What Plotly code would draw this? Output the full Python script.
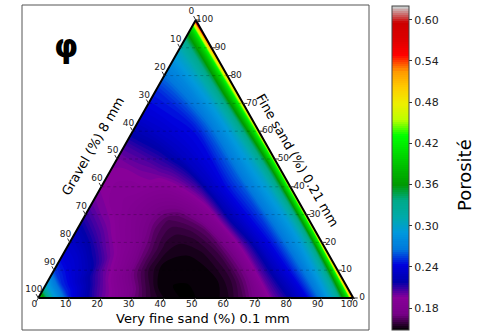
import math
import plotly.graph_objects as go

# ---------------------------------------------------------------------------
# Porosity of gravel / fine sand / very fine sand mixtures
# Grid rows: gravel content (%); grid columns: share of very fine sand
# within the sand fraction, V / (V + F).
# ---------------------------------------------------------------------------
gravel = [0, 1, 2, 3, 5, 7, 10, 15, 20, 25, 30, 35, 40, 45, 50,
          55, 60, 65, 70, 75, 80, 85, 90, 95, 98, 100]
vfs_share = [0.0, 0.25, 0.5, 0.62, 0.75, 0.9, 1.0]

# porosity along each line of constant very-fine-sand share, one value per gravel row
phi_s000 = [0.600, 0.490, 0.430, 0.400, 0.360, 0.335, 0.310, 0.282, 0.265, 0.250, 0.243, 0.235, 0.222,
            0.208, 0.198, 0.195, 0.195, 0.200, 0.210, 0.222, 0.232, 0.240, 0.254, 0.300, 0.360, 0.410]
phi_s025 = [0.500, 0.450, 0.410, 0.385, 0.345, 0.320, 0.292, 0.265, 0.245, 0.238, 0.228, 0.212, 0.200,
            0.194, 0.190, 0.189, 0.191, 0.198, 0.208, 0.220, 0.232, 0.240, 0.252, 0.295, 0.355, 0.410]
phi_s050 = [0.470, 0.420, 0.385, 0.355, 0.325, 0.302, 0.285, 0.260, 0.245, 0.228, 0.198, 0.180, 0.167,
            0.162, 0.165, 0.173, 0.183, 0.190, 0.200, 0.213, 0.226, 0.236, 0.250, 0.295, 0.355, 0.410]
phi_s062 = [0.470, 0.420, 0.380, 0.350, 0.318, 0.297, 0.280, 0.255, 0.240, 0.220, 0.185, 0.166, 0.158,
            0.155, 0.156, 0.162, 0.170, 0.182, 0.192, 0.203, 0.218, 0.233, 0.250, 0.295, 0.355, 0.410]
phi_s075 = [0.480, 0.420, 0.380, 0.345, 0.310, 0.290, 0.275, 0.250, 0.232, 0.205, 0.174, 0.160, 0.153,
            0.150, 0.149, 0.150, 0.157, 0.168, 0.182, 0.197, 0.213, 0.232, 0.250, 0.295, 0.355, 0.410]
phi_s090 = [0.520, 0.440, 0.390, 0.355, 0.315, 0.295, 0.272, 0.245, 0.225, 0.203, 0.172, 0.158, 0.151,
            0.149, 0.148, 0.148, 0.151, 0.162, 0.177, 0.192, 0.206, 0.225, 0.248, 0.295, 0.360, 0.410]
phi_s100 = [0.560, 0.450, 0.400, 0.370, 0.320, 0.300, 0.272, 0.240, 0.220, 0.203, 0.178, 0.163, 0.153,
            0.149, 0.148, 0.148, 0.151, 0.158, 0.170, 0.188, 0.202, 0.222, 0.248, 0.300, 0.365, 0.410]

ticks = [0, 10, 20, 30, 40, 50, 60, 70, 80, 90, 100]
cbar_ticks = [0.18, 0.24, 0.30, 0.36, 0.42, 0.48, 0.54, 0.60]
phi_min, phi_max = 0.148, 0.62

# matplotlib's nipy_spectral colour map
nipy = [
    (0.00, (0.0, 0.0, 0.0)), (0.05, (0.4667, 0.0, 0.5333)), (0.10, (0.5333, 0.0, 0.6)),
    (0.15, (0.0, 0.0, 0.6667)), (0.20, (0.0, 0.0, 0.8667)), (0.25, (0.0, 0.4667, 0.8667)),
    (0.30, (0.0, 0.6, 0.8667)), (0.35, (0.0, 0.6667, 0.6667)), (0.40, (0.0, 0.6667, 0.5333)),
    (0.45, (0.0, 0.6, 0.0)), (0.50, (0.0, 0.7333, 0.0)), (0.55, (0.0, 0.8667, 0.0)),
    (0.60, (0.0, 1.0, 0.0)), (0.65, (0.7333, 1.0, 0.0)), (0.70, (0.9333, 0.9333, 0.0)),
    (0.75, (1.0, 0.8, 0.0)), (0.80, (1.0, 0.6, 0.0)), (0.85, (1.0, 0.0, 0.0)),
    (0.90, (0.8667, 0.0, 0.0)), (0.95, (0.8, 0.0, 0.0)), (1.00, (0.8, 0.8, 0.8)),
]
colorscale = [[p, "rgb(%d,%d,%d)" % tuple(round(255 * c) for c in rgb)] for p, rgb in nipy]

H = math.sqrt(3) / 2


def tern_xy(v, f):
    """Cartesian position of a composition given very fine sand v and fine sand f (%)."""
    return v + f / 2.0, f * H


# carpet grid in cartesian space
X, Y = [], []
for g in gravel:
    rx, ry = [], []
    for s in vfs_share:
        x, y = tern_xy((100 - g) * s, (100 - g) * (1 - s))
        rx.append(x)
        ry.append(y)
    X.append(rx)
    Y.append(ry)

columns = [phi_s000, phi_s025, phi_s050, phi_s062, phi_s075, phi_s090, phi_s100]
Z = [[col[j] for col in columns] for j in range(len(gravel))]

hidden_axis = dict(showgrid=False, showline=False, showticklabels="none",
                   startline=False, endline=False, minorgridcount=0)

fig = go.Figure()
fig.add_trace(go.Carpet(carpet="tern", a=vfs_share, b=gravel, x=X, y=Y,
                        aaxis=hidden_axis, baxis=hidden_axis))
fig.add_trace(go.Contourcarpet(
    carpet="tern", a=vfs_share, b=gravel, z=Z,
    autocontour=False,
    contours=dict(start=phi_min, end=phi_max, size=0.003, coloring="fill", showlines=False),
    line=dict(width=0),
    colorscale=colorscale, zmin=phi_min, zmax=phi_max,
    colorbar=dict(
        x=392 / 490, xanchor="left", xpad=0, ypad=0,
        y=0.5 - 0.5 * (6 + 330 - 333) / 333, yanchor="middle",
        len=(330 - 6) / 333, lenmode="fraction", thickness=17,
        outlinewidth=1, outlinecolor="#444",
        tickvals=cbar_ticks, ticktext=["%.2f" % t for t in cbar_ticks],
        ticks="outside", ticklen=3, tickcolor="#333",
        tickfont=dict(family="DejaVu Sans", size=11, color="#222"),
    ),
    showscale=True,
))

# faint dotted gridlines of constant fine sand content
gx, gy = [], []
for f in ticks[1:-1]:
    x0, y0 = tern_xy(0, f)
    x1, y1 = tern_xy(100 - f, f)
    gx += [x0, x1, None]
    gy += [y0, y1, None]
fig.add_trace(go.Scatter(x=gx, y=gy, mode="lines", hoverinfo="skip",
                         line=dict(color="rgba(0,0,0,0.22)", width=1, dash="dot")))

# triangle outline
corners = [(0, 0), (100, 0), (0, 100), (0, 0)]
ox, oy = zip(*[tern_xy(v, f) for v, f in corners])
fig.add_trace(go.Scatter(x=ox, y=oy, mode="lines", hoverinfo="skip",
                         line=dict(color="black", width=2)))

# tick marks and tick labels on the three edges
tick_len, label_off = 1.4, 2.8
tx, ty, lx, ly, lt = [], [], [], [], []
for t in ticks:
    # bottom: very fine sand
    a = tern_xy(t, 0); b = tern_xy(t, -tick_len); c = tern_xy(t, -label_off * 0.9)
    tx += [a[0], b[0], None]; ty += [a[1], b[1], None]
    lx.append(c[0]); ly.append(c[1]); lt.append(str(t))
    # left: gravel
    a = tern_xy(0, 100 - t); b = tern_xy(-tick_len, 100 - t + tick_len)
    c = tern_xy(-label_off, 100 - t + label_off)
    tx += [a[0], b[0], None]; ty += [a[1], b[1], None]
    lx.append(c[0]); ly.append(c[1]); lt.append(str(t))
    # right: fine sand
    a = tern_xy(100 - t, t); b = tern_xy(100 - t + tick_len, t); c = tern_xy(100 - t + label_off, t)
    tx += [a[0], b[0], None]; ty += [a[1], b[1], None]
    lx.append(c[0]); ly.append(c[1]); lt.append(str(t))

fig.add_trace(go.Scatter(x=tx, y=ty, mode="lines", hoverinfo="skip",
                         line=dict(color="#333", width=1)))
fig.add_trace(go.Scatter(x=lx, y=ly, mode="text", text=lt, textposition="middle center",
                         cliponaxis=False, hoverinfo="skip",
                         textfont=dict(family="DejaVu Sans", size=9, color="#222")))

font = "DejaVu Sans"
annotations = [
    dict(text="φ", x=66 / 490, y=1 - 46 / 333, font=dict(family=font, size=31, color="black", weight="bold")),
    dict(text="Very fine sand (%) 0.1 mm", x=203 / 490, y=1 - 318.5 / 333,
         font=dict(family=font, size=13, color="black")),
    dict(text="Gravel (%) 8 mm", x=92.5 / 490, y=1 - 146 / 333, textangle=-60,
         font=dict(family=font, size=13, color="black")),
    dict(text="Fine sand (%) 0.21 mm", x=297.5 / 490, y=1 - 160.5 / 333, textangle=60,
         font=dict(family=font, size=13, color="black")),
    dict(text="Porosité", x=464 / 490, y=1 - 175 / 333, textangle=-90,
         font=dict(family=font, size=18, color="black")),
]
for an in annotations:
    an.update(xref="paper", yref="paper", showarrow=False, xanchor="center", yanchor="middle")

fig.update_layout(
    width=490, height=333,
    margin=dict(l=0, r=0, t=0, b=0),
    paper_bgcolor="white", plot_bgcolor="white",
    showlegend=False,
    xaxis=dict(visible=False, range=[-38.3 / 3.15, -38.3 / 3.15 + 490 / 3.15], domain=[0, 1]),
    yaxis=dict(visible=False, range=[-35 / 3.21, -35 / 3.21 + 333 / 3.21], domain=[0, 1]),
    annotations=annotations,
    shapes=[dict(type="rect", xref="paper", yref="paper",
                 x0=22 / 490, x1=369 / 490, y0=1 - 330 / 333, y1=1 - 5 / 333,
                 line=dict(color="#555", width=1), layer="below")],
)

fig.write_html("out.html")
